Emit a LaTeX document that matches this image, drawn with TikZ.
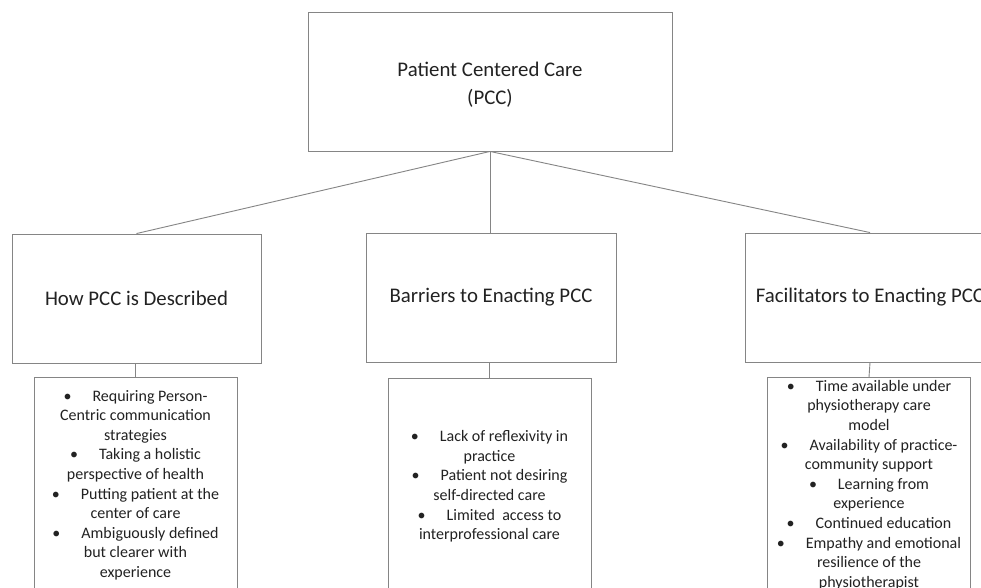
\documentclass[tikz,border=0pt]{standalone}
\usepackage{fontspec}
\setmainfont{Carlito}
\definecolor{edge}{HTML}{858585}
\definecolor{ink}{HTML}{222222}
\tikzset{
  box/.style={draw=edge, line width=0.9pt, fill=white, rectangle, inner sep=0pt, text=ink},
  title/.style={box, font=\fontsize{20.8}{28}\selectfont, align=center},
  listbox/.style={box, anchor=north, minimum width=203pt, minimum height=240pt},
  listtext/.style={text=ink, inner sep=0pt, align=center, font=\fontsize{16}{19.6}\selectfont},
  link/.style={draw=edge, line width=0.9pt}
}
\newcommand{\bul}{\textbullet\hspace{21pt}}
\begin{document}
\begin{tikzpicture}[x=1pt,y=-1pt]
\useasboundingbox (0,0) rectangle (981,588);
\clip (0,0) rectangle (981,588);
\fill[white] (0,0) rectangle (981,588);

\node[box, minimum width=364pt, minimum height=139pt] (top) at (490,81.5) {};
\node[text=ink, inner sep=0pt, align=center, font=\fontsize{20.8}{28}\selectfont] (toptext) at (490,85) {Patient Centered Care\\(PCC)};

\node[title, minimum width=249pt, minimum height=129pt] (how) at (136.5,298.5) {How PCC is Described};
\node[title, minimum width=250pt, minimum height=129pt] (bar) at (491,297.5) {Barriers to Enacting PCC};
\node[title, minimum width=250pt, minimum height=129pt] (fac) at (870,297.5) {Facilitators to Enacting PCC};

\draw[link] (top.south) -- (how.north);
\draw[link] (top.south) -- (top.south |- bar.north);
\draw[link] (top.south) -- (fac.north);

\node[listbox] (howl) at (135.5,377) {};
\node[listbox] (barl) at (489.5,378) {};
\node[listbox] (facl) at (869,377) {};

\draw[link] (how.south -| howl.north) -- (howl.north);
\draw[link] (bar.south -| barl.north) -- (barl.north);
\draw[link] (fac.south) -- (facl.north);

\node[listtext] (howt) at (135.5,485) {\bul Requiring Person-\\Centric communication\\strategies\\\bul Taking a holistic\\perspective of health\\\bul Putting patient at the\\center of care\\\bul Ambiguously defined\\but clearer with\\experience};

\node[listtext] (bart) at (489.5,486.5) {\bul Lack of reflexivity in\\practice\\\bul Patient not desiring\\self-directed care\\\bul Limited\ \ access to\\interprofessional care};

\node[listtext] (fact) at (869,485) {\bul Time available under\\physiotherapy care\\model\\\bul Availability of practice-\\community support\\\bul Learning from\\experience\\\bul Continued education\\\bul Empathy and emotional\\resilience of the\\physiotherapist};
\end{tikzpicture}
\end{document}
